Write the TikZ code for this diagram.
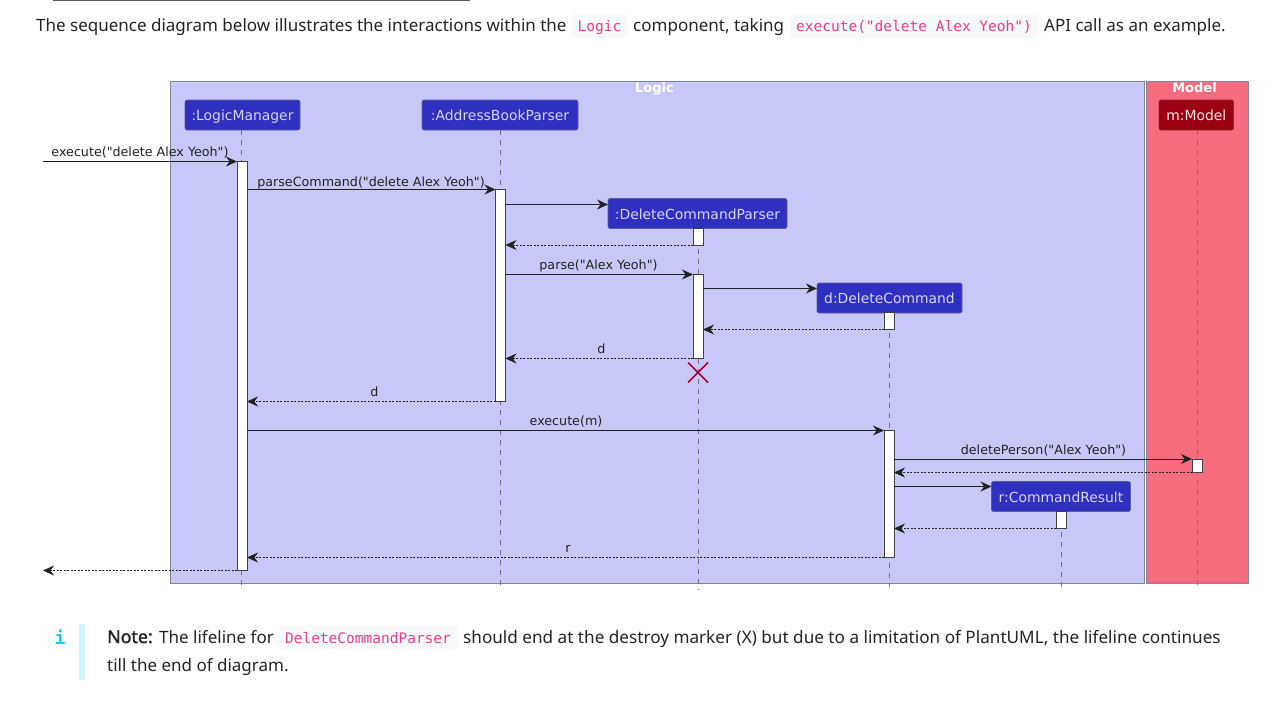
\documentclass[tikz,border=0pt]{standalone}
\usepackage{fontspec}
\setmainfont{Noto Sans}
\newfontfamily\notebold[FakeBold=1.6]{Noto Sans}
\newfontfamily\djv{DejaVu Sans}
\newfontfamily\djm{DejaVu Sans Mono}
\usetikzlibrary{arrows.meta}
\definecolor{logicbg}{HTML}{C8C8F8}
\definecolor{modelbg}{HTML}{F76C7F}
\definecolor{headblue}{HTML}{3030C0}
\definecolor{headred}{HTML}{9B0010}
\definecolor{headtxt}{HTML}{D4D4F4}
\definecolor{framec}{HTML}{85859A}
\definecolor{lifec}{HTML}{6F6F85}
\definecolor{inkc}{HTML}{222222}
\definecolor{bodyc}{HTML}{212529}
\definecolor{pinkc}{HTML}{E83E8C}
\definecolor{chipc}{HTML}{F8F9FA}
\definecolor{destroyc}{HTML}{A80036}
\definecolor{infoc}{HTML}{0DCAF0}
\definecolor{notebar}{HTML}{CFF4FC}
\tikzset{
  x=1pt,y=-1pt,
  frame/.style={draw=framec,line width=0.7pt,inner sep=0pt,outer sep=0pt},
  frametitle/.style={text=white,font=\djv\bfseries\fontsize{13}{15}\selectfont,inner sep=0pt,text height=12pt,text depth=3pt},
  head/.style={draw=lifec!70!headblue,rounded corners=2pt,fill=headblue,text=headtxt,line width=0.6pt,
     font=\djv\fontsize{13.9}{16}\selectfont,inner sep=0pt,outer sep=0pt,minimum height=30pt,text height=14pt,text depth=3pt},
  redhead/.style={head,fill=headred,draw=headred!70!gray,text=white!90!red},
  actbar/.style={draw=inkc!85!white,fill=white,line width=0.9pt,minimum width=10pt,inner sep=0pt,outer sep=0pt},
  life/.style={draw=lifec,line width=0.7pt,dash pattern=on 5pt off 5pt},
  call/.style={draw=inkc,line width=1pt,-{Stealth[length=11pt,width=10pt,inset=3.6pt]}},
  reply/.style={draw=inkc,line width=0.8pt,dash pattern=on 2pt off 1.5pt,-{Stealth[length=11pt,width=10pt,inset=3.6pt]}},
  msg/.style={text=inkc,font=\djv\fontsize{12.7}{15}\selectfont,inner sep=0pt,text height=12.5pt,text depth=3pt},
  body/.style={text=bodyc,font=\fontsize{17}{20}\selectfont,inner sep=0pt,anchor=base west},
  code/.style={text=pinkc,font=\djm\fontsize{14.5}{17}\selectfont,inner sep=0pt,text height=13.5pt,text depth=3pt},
  chip/.style={fill=chipc,rounded corners=4pt,inner sep=0pt,minimum height=24pt},
}
\begin{document}
\begin{tikzpicture}
\useasboundingbox (0,0.5) rectangle (1281,710.5);
\fill[white] (0,0.5) rectangle (1281,710.5);
\draw[line width=1.4pt,draw=black!65] (53,1) -- (470,1);

% top sentence
\node[chip,minimum width=55pt] (chipA) at (599.5,26.5) {};
\node[chip,minimum width=248pt] (chipB) at (914,26.5) {};
\node[body] (t1) at (36,31.5) {The sequence diagram below illustrates the interactions within the};
\node[code] (c1) at (599.5,26.5) {Logic};
\node[body] (t2) at (633,31.5) {component, taking};
\node[code] (c2) at (914,26.5) {execute("delete Alex Yeoh")};
\node[body] (t3) at (1044,31.5) {API call as an example.};

% boxes
\node[frame,fill=logicbg,minimum width=974pt,minimum height=502pt] (logicBox) at (657.5,332.75) {};
\node[frame,fill=modelbg,minimum width=102.5pt,minimum height=502pt] (modelBox) at (1197.25,332.75) {};
\node[frametitle] (logicTitle) at (654.5,88.5) {Logic};
\node[frametitle] (modelTitle) at (1194.5,88.5) {Model};

% lifeline ends
\coordinate (lmEnd) at (241.5,590);
\coordinate (abpEnd) at (500.5,590);
\coordinate (dcpEnd) at (698,590);
\coordinate (dcEnd) at (889,587);
\coordinate (crEnd) at (1061,587);
\coordinate (mEnd) at (1197,590);

% participants
\node[head,minimum width=115pt] (lmHead) at (242.5,115.5) {:LogicManager};
\node[head,minimum width=156pt] (abpHead) at (500,115.5) {:AddressBookParser};
\node[head,minimum width=179pt] (dcpHead) at (697.5,214) {:DeleteCommandParser};
\node[head,minimum width=145pt] (dcHead) at (889.5,298.5) {d:DeleteCommand};
\node[head,minimum width=139pt] (crHead) at (1061,497) {r:CommandResult};
\node[redhead,minimum width=74.5pt] (mHead) at (1196.25,115.5) {m:Model};

% lifelines
\draw[life] (lmEnd |- lmHead.south) -- (lmEnd);
\draw[life] (abpEnd |- abpHead.south) -- (abpEnd);
\draw[life] (dcpEnd |- dcpHead.south) -- (dcpEnd);
\draw[life] (dcEnd |- dcHead.south) -- (dcEnd);
\draw[life] (crEnd |- crHead.south) -- (crEnd);
\draw[life] (mEnd |- mHead.south) -- (mEnd);

% activation bars
\node[actbar,minimum height=409pt] (lmA) at (242,366.5) {};
\node[actbar,minimum height=212pt] (abpA) at (500.5,296) {};
\node[actbar,minimum height=16.5pt] (dcpA1) at (698,237.25) {};
\node[actbar,minimum height=84pt] (dcpA2) at (698,317) {};
\node[actbar,minimum height=17pt] (dcA1) at (889,321.5) {};
\node[actbar,minimum height=127pt] (dcA2) at (889,494.5) {};
\node[actbar,minimum height=13.5pt] (mA) at (1197,466.25) {};
\node[actbar,minimum height=17pt] (crA) at (1061,520.5) {};

% free ends and levels
\coordinate (inL) at (43,162);
\coordinate (outL) at (43,571);
\coordinate (lvCreateDcp) at (0,205);
\coordinate (lvCreateDc) at (0,289);
\coordinate (lvCreateCr) at (0,487);

% messages
\draw[call] (inL) -- (lmA.north west);
\node[msg] (mExec) at (140,152.5) {execute("delete Alex Yeoh")};
\draw[call] (lmA.east |- abpA.north) -- (abpA.north west);
\node[msg] (mParseCmd) at (371,182.5) {parseCommand("delete Alex Yeoh")};
\draw[call] (abpA.east |- lvCreateDcp) -- (dcpHead.west |- lvCreateDcp);
\draw[reply] (dcpA1.south west) -- (abpA.east |- dcpA1.south);
\draw[call] (abpA.east |- dcpA2.north) -- (dcpA2.north west);
\node[msg] (mParse) at (598.5,265.5) {parse("Alex Yeoh")};
\draw[call] (dcpA2.east |- lvCreateDc) -- (dcHead.west |- lvCreateDc);
\draw[reply] (dcA1.south west) -- (dcpA2.east |- dcA1.south);
\draw[reply] (dcpA2.south west) -- (abpA.east |- dcpA2.south);
\node[msg] (mD1) at (601.5,349.5) {d};
\draw[reply] (abpA.south west) -- (lmA.east |- abpA.south);
\node[msg] (mD2) at (374.5,392.5) {d};
\draw[call] (lmA.east |- dcA2.north) -- (dcA2.north west);
\node[msg] (mExecM) at (566,421.5) {execute(m)};
\draw[call] (dcA2.east |- mA.north) -- (mA.north west);
\node[msg] (mDel) at (1043.5,450.5) {deletePerson("Alex Yeoh")};
\draw[reply] (mA.south west) -- (dcA2.east |- mA.south);
\draw[call] (dcA2.east |- lvCreateCr) -- (crHead.west |- lvCreateCr);
\draw[reply] (crA.south west) -- (dcA2.east |- crA.south);
\draw[reply] (dcA2.south west) -- (lmA.east |- dcA2.south);
\node[msg] (mR) at (568,548.5) {r};
\draw[reply] (lmA.south west) -- (outL);

% destroy marker
\draw[destroyc,line width=1.5pt] (688,363) -- (708,383) (688,383) -- (708,363);

% note
\fill[notebar] (79,624) rectangle (85,680);
\node[text=infoc,font=\djm\bfseries\fontsize{18}{20}\selectfont,inner sep=0pt] (iIcon) at (60,637.5) {i};
\node[chip,minimum width=179pt] (chipC) at (368.5,638.5) {};
\node[body,font=\notebold\fontsize{17.8}{20}\selectfont] (n1) at (107,643.5) {Note:};
\node[body] (n2) at (159,643.5) {The lifeline for};
\node[code] (c3) at (368,638.5) {DeleteCommandParser};
\node[body,font=\fontsize{17.15}{20}\selectfont] (n3) at (463,643.5) {should end at the destroy marker (X) but due to a limitation of PlantUML, the lifeline continues};
\node[body] (n4) at (107,671.5) {till the end of diagram.};
\end{tikzpicture}
\end{document}
